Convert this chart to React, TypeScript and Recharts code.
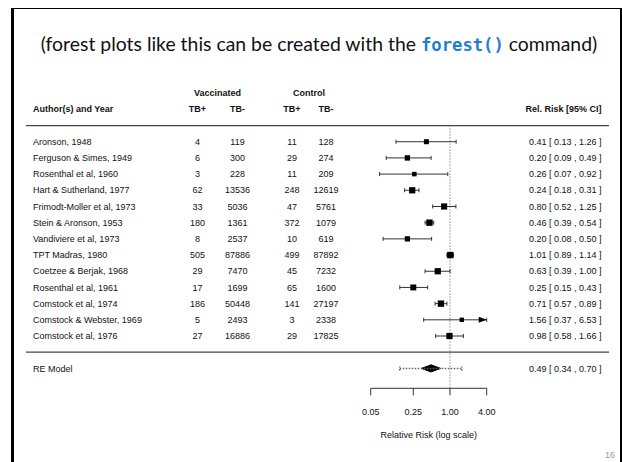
import React from "react"
import { Area, ComposedChart, ErrorBar, ReferenceLine, Scatter, XAxis, YAxis } from "recharts"

const authors = [
  "Aronson, 1948",
  "Ferguson & Simes, 1949",
  "Rosenthal et al, 1960",
  "Hart & Sutherland, 1977",
  "Frimodt-Moller et al, 1973",
  "Stein & Aronson, 1953",
  "Vandiviere et al, 1973",
  "TPT Madras, 1980",
  "Coetzee & Berjak, 1968",
  "Rosenthal et al, 1961",
  "Comstock et al, 1974",
  "Comstock & Webster, 1969",
  "Comstock et al, 1976",
]
const vaccPos = [4, 6, 3, 62, 33, 180, 8, 505, 29, 17, 186, 5, 27]
const vaccNeg = [119, 300, 228, 13536, 5036, 1361, 2537, 87886, 7470, 1699, 50448, 2493, 16886]
const ctrlPos = [11, 29, 11, 248, 47, 372, 10, 499, 45, 65, 141, 3, 29]
const ctrlNeg = [128, 274, 209, 12619, 5761, 1079, 619, 87892, 7232, 1600, 27197, 2338, 17825]
const relRisk = [0.41, 0.2, 0.26, 0.24, 0.8, 0.46, 0.2, 1.01, 0.63, 0.25, 0.71, 1.56, 0.98]
const ciLow = [0.13, 0.09, 0.07, 0.18, 0.52, 0.39, 0.08, 0.89, 0.39, 0.15, 0.57, 0.37, 0.58]
const ciHigh = [1.26, 0.49, 0.92, 0.31, 1.25, 0.54, 0.5, 1.14, 1.0, 0.43, 0.89, 6.53, 1.66]
// random-effects weights (%)
const weights = [5.1, 6.4, 3.4, 9.4, 9.1, 9.8, 6.1, 9.9, 9.3, 8.3, 9.9, 3.1, 9.3]

const reEst = 0.49
const reLow = 0.34
const reHigh = 0.7
const piLow = 0.15
const piHigh = 1.56

const xTicks = [0.05, 0.25, 1, 4]

const k = authors.length
const xMin = xTicks[0]
const xMax = xTicks[xTicks.length - 1]
const yMin = -2.23
const yMax = 16.5
const wMin = Math.min(...weights)
const wMax = Math.max(...weights)

const studyData = authors.map((_, i) => ({
  x: relRisk[i],
  y: k - i,
  err: [relRisk[i] - Math.max(ciLow[i], xMin), Math.min(ciHigh[i], xMax) - relRisk[i]],
  w: weights[i],
}))
const arrowData = studyData.filter((_, i) => ciHigh[i] > xMax).map((d) => ({ x: xMax, y: d.y }))
const diamondHalf = 0.22
const diamondData = [
  { x: reLow, band: [-1, -1] },
  { x: reEst, band: [-1 - diamondHalf, -1 + diamondHalf] },
  { x: reHigh, band: [-1, -1] },
]
const piData = [{ x: reEst, y: -1, err: [reEst - piLow, piHigh - reEst] }]

const tickRows = [16, 15, 14, ...studyData.map((d) => d.y), 0, -1]

const fmtCI = (e: number, l: number, u: number) => `${e.toFixed(2)} [ ${l.toFixed(2)} , ${u.toFixed(2)} ]`

const col = { author: 33, vp: 197.5, vn: 237.5, cp: 292, cn: 326, rr: 601.5, lineL: 26, lineR: 609 }

function RowTick(props: any) {
  const { y, payload } = props
  const v = payload.value
  const t = { fontSize: 9, fill: "#111", dy: "0.35em" }
  if (v === 16) {
    return (
      <g fontWeight="bold">
        <text x={(col.vp + col.vn) / 2} y={y} textAnchor="middle" {...t}>Vaccinated</text>
        <text x={(col.cp + col.cn) / 2} y={y} textAnchor="middle" {...t}>Control</text>
      </g>
    )
  }
  if (v === 15) {
    return (
      <g fontWeight="bold">
        <text x={col.author} y={y} {...t}>Author(s) and Year</text>
        <text x={col.vp} y={y} textAnchor="middle" {...t}>TB+</text>
        <text x={col.vn} y={y} textAnchor="middle" {...t}>TB-</text>
        <text x={col.cp} y={y} textAnchor="middle" {...t}>TB+</text>
        <text x={col.cn} y={y} textAnchor="middle" {...t}>TB-</text>
        <text x={col.rr} y={y} textAnchor="end" {...t}>Rel. Risk [95% CI]</text>
      </g>
    )
  }
  if (v === 14 || v === 0) {
    return <line x1={col.lineL} x2={col.lineR} y1={y} y2={y} stroke="#444" strokeWidth={1.3} />
  }
  if (v === -1) {
    return (
      <g>
        <text x={col.author} y={y} {...t}>RE Model</text>
        <text x={col.rr} y={y} textAnchor="end" {...t}>{fmtCI(reEst, reLow, reHigh)}</text>
      </g>
    )
  }
  const i = k - v
  return (
    <g>
      <text x={col.author} y={y} {...t}>{authors[i]}</text>
      <text x={col.vp} y={y} textAnchor="middle" {...t}>{vaccPos[i]}</text>
      <text x={col.vn} y={y} textAnchor="middle" {...t}>{vaccNeg[i]}</text>
      <text x={col.cp} y={y} textAnchor="middle" {...t}>{ctrlPos[i]}</text>
      <text x={col.cn} y={y} textAnchor="middle" {...t}>{ctrlNeg[i]}</text>
      <text x={col.rr} y={y} textAnchor="end" {...t}>{fmtCI(relRisk[i], ciLow[i], ciHigh[i])}</text>
    </g>
  )
}

function Square(props: any) {
  const { cx, cy, payload } = props
  const s = 4.4 + ((payload.w - wMin) / (wMax - wMin)) * 2
  return <rect x={cx - s / 2} y={cy - s / 2} width={s} height={s} fill="#000" />
}

function Arrow(props: any) {
  const { cx, cy } = props
  return <polygon points={`${cx},${cy} ${cx - 8},${cy - 3} ${cx - 8},${cy + 3}`} fill="#000" />
}

export default function App() {
  return (
    <div
      style={{
        position: "absolute",
        left: 0,
        top: 0,
        width: 622,
        height: 462,
        overflow: "hidden",
        background: "#fff",
        fontFamily: "'Liberation Sans', Arial, sans-serif",
      }}
    >
      <div
        style={{
          position: "absolute",
          left: 11,
          top: 8,
          width: 606,
          height: 480,
          borderLeft: "3px solid #000",
          borderTop: "1.5px solid #000",
          borderRight: "2px solid #000",
        }}
      />
      <div
        style={{
          position: "absolute",
          left: 8,
          top: 32,
          width: 622,
          textAlign: "center",
          fontFamily: "Lato, 'Open Sans', sans-serif",
          fontSize: 19.4,
          color: "#111",
        }}
      >
        (forest plots like this can be created with the{" "}
        <span style={{ fontFamily: "'DejaVu Sans Mono', monospace", fontWeight: "bold", color: "#1f7fd0", fontSize: 17.2 }}>
          forest()
        </span>{" "}
        command)
      </div>
      <div style={{ position: "absolute", left: 605, top: 450, fontSize: 9, color: "#999" }}>16</div>
      <div style={{ position: "absolute", left: 0, top: 0 }}>
        <ComposedChart width={622} height={462} margin={{ top: 85.06, right: 135.3, bottom: 13.7, left: 369.7 }}>
          <XAxis
            dataKey="x"
            type="number"
            scale="log"
            domain={[xMin, xMax]}
            allowDataOverflow
            ticks={xTicks}
            interval={0}
            tickFormatter={(v: number) => v.toFixed(2)}
            tickSize={7}
            tickMargin={13}
            height={60}
            stroke="#333"
            tick={{ fill: "#111", fontSize: 9 }}
            label={{ value: "Relative Risk (log scale)", position: "insideBottom", offset: 10, fill: "#111", fontSize: 9 }}
          />
          <YAxis
            dataKey="y"
            type="number"
            domain={[yMin, yMax]}
            allowDataOverflow
            ticks={tickRows}
            interval={0}
            width={1}
            axisLine={false}
            tickLine={false}
            tick={(p: any) => <RowTick {...p} />}
          />
          <ReferenceLine
            segment={[
              { x: 1, y: 14 },
              { x: 1, y: yMin },
            ]}
            stroke="#555"
            strokeDasharray="1 2"
          />
          <Scatter data={piData} isAnimationActive={false} shape={() => <g />}>
            <ErrorBar dataKey="err" direction="x" width={2} stroke="#666" strokeDasharray="1.5 1.5" isAnimationActive={false} />
          </Scatter>
          <Area
            data={diamondData}
            dataKey="band"
            type="linear"
            stroke="#000"
            strokeWidth={1}
            fill="#000"
            fillOpacity={1}
            isAnimationActive={false}
            dot={false}
            activeDot={false}
          />
          <Scatter data={studyData} isAnimationActive={false} shape={(p: any) => <Square {...p} />}>
            <ErrorBar dataKey="err" direction="x" width={2} stroke="#333" strokeWidth={1} isAnimationActive={false} />
          </Scatter>
          <Scatter data={arrowData} isAnimationActive={false} shape={(p: any) => <Arrow {...p} />} />
        </ComposedChart>
      </div>
    </div>
  )
}
